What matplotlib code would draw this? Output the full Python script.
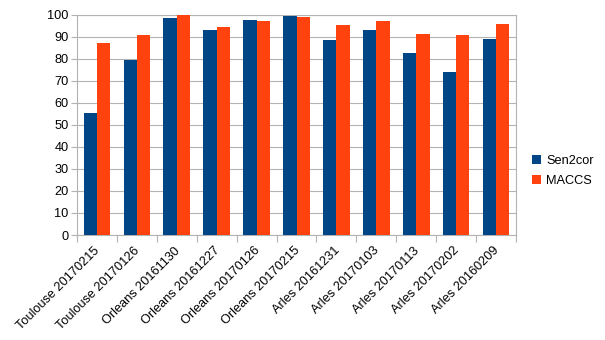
import matplotlib
matplotlib.use("Agg")
import matplotlib.pyplot as plt
import matplotlib.transforms as mtransforms
import numpy as np

categories = ["Toulouse 20170215", "Toulouse 20170126", "Orleans 20161130", "Orleans 20161227",
              "Orleans 20170126", "Orleans 20170215", "Arles 20161231", "Arles 20170103",
              "Arles 20170113", "Arles 20170202", "Arles 20160209"]
sen2cor = [55.2, 79.4, 98.5, 93.0, 97.6, 99.4, 88.4, 92.9, 82.5, 73.8, 89.0]
maccs = [87.0, 90.8, 99.7, 94.2, 97.3, 98.8, 95.3, 97.0, 91.2, 90.6, 95.6]

plt.rcParams['font.family'] = ['Liberation Sans', 'DejaVu Sans']

fig = plt.figure(figsize=(6.05, 3.4), dpi=100)
ax = fig.add_axes([77/605, 1-235/340, (516-77)/605, (235-14.7)/340])

n = len(categories)
x = np.arange(n)
w = 1/3
ax.bar(x - w/2, sen2cor, width=w, color="#004586", label="Sen2cor", zorder=3)
ax.bar(x + w/2, maccs, width=w, color="#ff420e", label="MACCS", zorder=3)

ax.set_xlim(-0.5, n - 0.5)
ax.set_ylim(0, 100)
ax.set_yticks(np.arange(0, 101, 10))
ax.yaxis.grid(True, color="#b3b3b3", linewidth=0.8, zorder=0)
ax.set_axisbelow(True)

ax.set_xticks(np.arange(-0.5, n, 1))
ax.set_xticklabels([])
ax.set_xticks(x, minor=True)
ax.set_xticklabels(categories, minor=True, rotation=45, ha='right', va='top',
                   rotation_mode='anchor', fontsize=9.2)
ax.tick_params(axis='x', which='minor', length=0, pad=7)
ax.tick_params(axis='x', which='major', length=5, color="#b3b3b3")
ax.tick_params(axis='y', length=4, color="#b3b3b3", labelsize=9.2, pad=2)

offset = mtransforms.ScaledTranslation(-3/100, 0, fig.dpi_scale_trans)
for lbl in ax.get_xticklabels(minor=True):
    lbl.set_transform(lbl.get_transform() + offset)

for s in ax.spines.values():
    s.set_color("#b3b3b3")
    s.set_linewidth(0.8)

leg = ax.legend(loc='center left', bbox_to_anchor=(1.01, 0.29), frameon=False,
                fontsize=9.2, handlelength=0.7, handleheight=0.7, handletextpad=0.4,
                labelspacing=0.6)

fig.savefig("out.png", dpi=100)
